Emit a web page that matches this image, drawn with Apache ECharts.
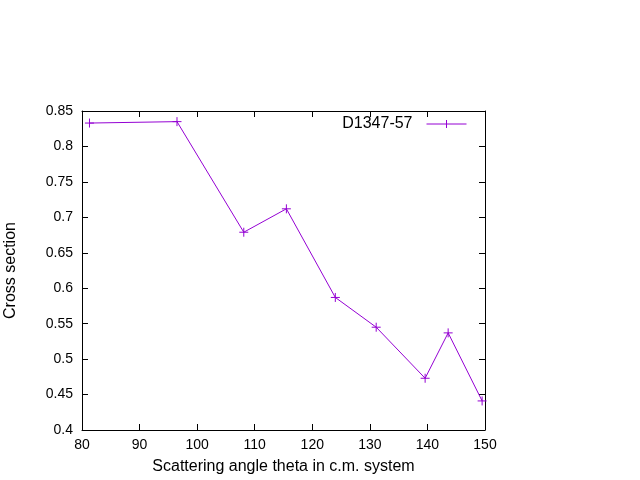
<!DOCTYPE html>
<html><head><meta charset="utf-8">
<script src="https://cdn.jsdelivr.net/npm/echarts@6/dist/echarts.min.js"></script>
<style>html,body{margin:0;padding:0;background:#fff}#c{width:640px;height:480px}</style>
</head><body><div id="c"></div>
<script>
const seriesName = 'D1347-57';
const angles = [81.3, 96.5, 108.1, 115.5, 124.0, 131.1, 139.6, 143.6, 149.5];
const crossSection = [0.833, 0.835, 0.679, 0.712, 0.587, 0.545, 0.473, 0.537, 0.441];
const xTitle = 'Scattering angle theta in c.m. system';
const yTitle = 'Cross section';

const color = '#9400D3';
const plus = 'path://M0,5L10,5M5,0L5,10';
const font = 'Liberation Sans, Arial, sans-serif';
const chart = echarts.init(document.getElementById('c'), null, {renderer: 'canvas'});
const axisCommon = {
  axisLine: {show: true, lineStyle: {color: '#000', width: 1}},
  axisTick: {show: true, inside: true, length: 6, lineStyle: {color: '#000'}},
  splitLine: {show: false},
  axisLabel: {color: '#000', fontSize: 14, fontFamily: font}
};
chart.setOption({
  animation: false,
  grid: {left: 82, right: 155, top: 111, bottom: 50, containLabel: false, outerBoundsMode: 'none'},
  legend: {
    right: 166, top: 111, orient: 'horizontal', align: 'right',
    itemWidth: 40, itemHeight: 10, itemGap: 10,
    textStyle: {fontSize: 16, fontFamily: font, color: '#000', padding: [0, 9, 0, 0]},
    data: [{name: seriesName, icon: 'path://M0,5L40,5M20,1L20,9', itemStyle: {color: 'none', borderColor: color, borderWidth: 1}}]
  },
  xAxis: [
    Object.assign({}, axisCommon, {type: 'value', min: 80, max: 150, interval: 10, position: 'bottom',
      axisLabel: Object.assign({}, axisCommon.axisLabel, {margin: 8}),
      name: xTitle, nameLocation: 'middle', nameGap: 29,
      nameTextStyle: {fontSize: 16, fontFamily: font, color: '#000'}}),
    Object.assign({}, axisCommon, {type: 'value', min: 80, max: 150, interval: 10, position: 'top', axisLabel: {show: false}})
  ],
  yAxis: [
    Object.assign({}, axisCommon, {type: 'value', min: 0.4, max: 0.85, interval: 0.05, position: 'left',
      axisLabel: Object.assign({}, axisCommon.axisLabel, {margin: 9, formatter: v => String(Math.round(v*100)/100)}),
      name: yTitle, nameLocation: 'middle', nameGap: 63, nameRotate: 90,
      nameTextStyle: {fontSize: 16, fontFamily: font, color: '#000'}}),
    Object.assign({}, axisCommon, {type: 'value', min: 0.4, max: 0.85, interval: 0.05, position: 'right', axisLabel: {show: false}})
  ],
  series: [{
    name: seriesName, type: 'line',
    data: angles.map((a, i) => [a, crossSection[i]]),
    symbol: plus, symbolSize: 9, showAllSymbol: true,
    lineStyle: {color: color, width: 1},
    itemStyle: {color: 'none', borderColor: color, borderWidth: 1}
  }]
});
</script></body></html>
